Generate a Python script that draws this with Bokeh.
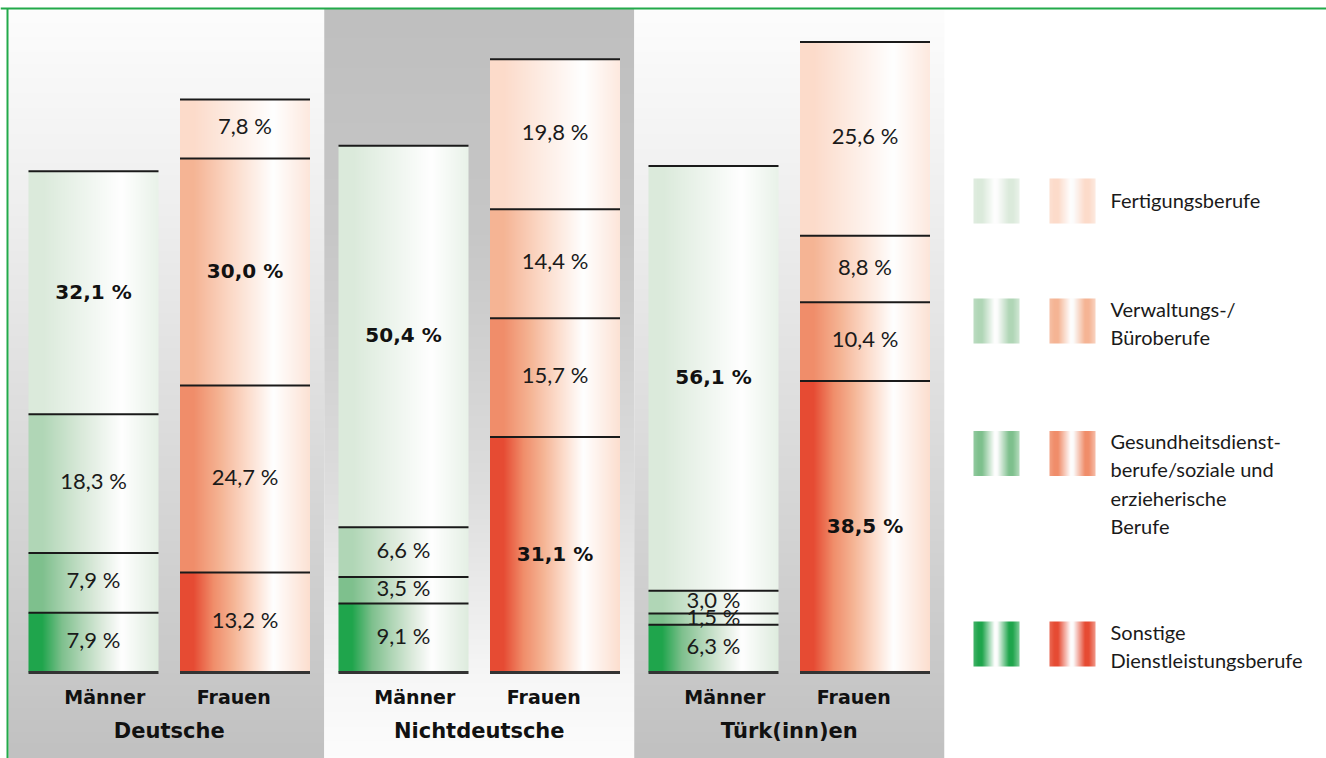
import numpy as np
from bokeh.plotting import figure
from bokeh.models import Range1d, Span, ColumnDataSource
from bokeh.core.properties import value
from bokeh.embed import file_html
from bokeh.resources import INLINE

# ---------------- data ----------------
groups = ["Deutsche", "Nichtdeutsche", "Türk(inn)en"]
sexes = ["Männer", "Frauen"]
# bar order: Deutsche M, Deutsche F, Nichtdeutsche M, Nichtdeutsche F, Türk M, Türk F
sonstige = [7.9, 13.2, 9.1, 31.1, 6.3, 38.5]
gesundheit = [7.9, 24.7, 3.5, 15.7, 1.5, 10.4]
verwaltung = [18.3, 30.0, 6.6, 14.4, 3.0, 8.8]
fertigung = [32.1, 7.8, 50.4, 19.8, 56.1, 25.6]
# stacking order bottom -> top
series = [sonstige, gesundheit, verwaltung, fertigung]
category_labels = [
    "Sonstige\nDienstleistungsberufe",
    "Gesundheitsdienst-\nberufe/soziale und\nerzieherische\nBerufe",
    "Verwaltungs-/\nBüroberufe",
    "Fertigungsberufe",
]
green_colors = ["#1fa54c", "#7ec08d", "#b0d6b6", "#dbeadb"]
red_colors = ["#e64b33", "#f08d6a", "#f5b494", "#fcdbca"]

# ---------------- layout ----------------
W, H = 1326, 758
PX = 7.57          # pixels per percent
BASE = 672         # baseline, px from top of canvas
FRAME_TOP, FRAME_LEFT = 8, 8
GROUP_W = 310
G0 = 168.75
BAR_OFF = 75.75
BAR_W = 130
LABEL_OFF = 64.5

def yd(px_from_top):
    return (BASE - px_from_top) / PX

p = figure(width=W, height=H, x_range=Range1d(0, W),
           y_range=Range1d(-(H - BASE) / PX, BASE / PX),
           output_backend="svg", toolbar_location=None,
           x_axis_location=None, y_axis_location=None, min_border=0,
           outline_line_color=None, background_fill_color="white",
           border_fill_color="white")
p.grid.visible = False

def hex2rgb(h):
    return [int(h[i:i + 2], 16) for i in (1, 3, 5)]

def mix(c, w):
    return [255 - (255 - v) * w for v in c]

WHITE = [255, 255, 255]

def make_img(stops, n, vertical=False):
    pos = [s[0] for s in stops]
    cols = np.array([s[1] for s in stops], dtype=float)
    t = np.linspace(0, 1, n)
    rgb = np.stack([np.interp(t, pos, cols[:, k]) for k in range(3)], axis=-1)
    rgba = np.concatenate([rgb, np.full((n, 1), 255.0)], axis=-1).astype(np.uint8)
    if vertical:
        arr = rgba[::-1][:, None, :]          # row 0 = bottom
        arr = np.repeat(arr, 2, axis=1)
    else:
        arr = rgba[None, :, :]
        arr = np.repeat(arr, 2, axis=0)
    arr = np.ascontiguousarray(arr)
    return arr.view(np.uint32).reshape(arr.shape[0], arr.shape[1])

def bar_stops(palette, k):
    chain = [hex2rgb(c) for c in palette[k:]] + [WHITE]
    start, end = 0.1, 0.72
    stops = [(0, hex2rgb(palette[k]))]
    for i, c in enumerate(chain):
        stops.append((start + (end - start) * i / (len(chain) - 1), c))
    stops.append((1.0, mix(hex2rgb(palette[-1]), 0.9 - 0.1 * k)))
    return stops

def legend_stops(palette, k):
    c = hex2rgb(palette[k])
    return [(0, mix(c, 0.85)), (0.1, c), (0.18, c), (0.46, WHITE),
            (0.52, [252, 252, 252]), (0.78, c), (0.86, c), (1.0, mix(c, 0.6))]

# ---------------- panel backgrounds ----------------
panel_stops_light = [(0, [253] * 3), (0.26, [239] * 3), (1.0, [193] * 3)]
panel_stops_dark = [(0, [191] * 3), (0.3, [199] * 3), (0.65, [222] * 3), (0.9, [247] * 3), (1.0, [252] * 3)]
bg = dict(image=[], x=[], y=[], dw=[], dh=[])
for gi in range(len(groups)):
    left = G0 + GROUP_W * gi - GROUP_W / 2
    right = left + GROUP_W
    if gi == 0:
        left = FRAME_LEFT
    stops = panel_stops_dark if gi == 1 else panel_stops_light
    bg["image"].append(make_img(stops, 256, vertical=True))
    bg["x"].append(left)
    bg["y"].append(yd(H))
    bg["dw"].append(right - left)
    bg["dh"].append(yd(FRAME_TOP) - yd(H))
p.image_rgba(image="image", x="x", y="y", dw="dw", dh="dh", source=ColumnDataSource(bg))

# ---------------- bars ----------------
bar_centers = []
label_centers = []
for gi in range(len(groups)):
    for si in range(len(sexes)):
        bar_centers.append(G0 + GROUP_W * gi + (2 * si - 1) * BAR_OFF)
        label_centers.append(G0 + GROUP_W * gi + (2 * si - 1) * LABEL_OFF)

seg = dict(image=[], x=[], y=[], dw=[], dh=[])
txt_reg = dict(x=[], y=[], t=[])
txt_bold = dict(x=[], y=[], t=[])
lines = dict(x0=[], x1=[], y=[])
for b, cx in enumerate(bar_centers):
    palette = green_colors if b % 2 == 0 else red_colors
    vals = [s[b] for s in series]
    vmax = max(vals)
    bottom = 0.0
    for k, v in enumerate(vals):
        seg["image"].append(make_img(bar_stops(palette, k), BAR_W))
        seg["x"].append(cx - BAR_W / 2)
        seg["y"].append(bottom)
        seg["dw"].append(BAR_W)
        seg["dh"].append(v)
        label = f"{v:.1f} %".replace(".", ",")
        d = txt_bold if v == vmax else txt_reg
        d["x"].append(cx)
        d["y"].append(bottom + v / 2)
        d["t"].append(label)
        bottom += v
        lines["x0"].append(cx - BAR_W / 2)
        lines["x1"].append(cx + BAR_W / 2)
        lines["y"].append(bottom)

p.image_rgba(image="image", x="x", y="y", dw="dw", dh="dh", source=ColumnDataSource(seg))
p.text(x="x", y="y", text="t", source=ColumnDataSource(txt_reg),
       text_font=value("Lato"), text_font_size="22px", text_color="#1a1a1a",
       text_align="center", text_baseline="middle", y_offset=-3)
p.text(x="x", y="y", text="t", source=ColumnDataSource(txt_bold),
       text_font=value("DejaVu Sans"), text_font_style="bold", text_font_size="20px",
       text_color="#111111", text_align="center", text_baseline="middle", y_offset=-1)
p.segment(x0="x0", y0="y", x1="x1", y1="y", source=ColumnDataSource(lines),
          line_color="#1a1a1a", line_width=2)
p.segment(x0=[c - BAR_W / 2 for c in bar_centers], y0=[0] * len(bar_centers),
          x1=[c + BAR_W / 2 for c in bar_centers], y1=[0] * len(bar_centers),
          line_color="#333333", line_width=3)

# ---------------- axis-like labels ----------------
p.text(x=label_centers, y=[-24 / PX] * len(label_centers),
       text=[sexes[i % 2] for i in range(len(label_centers))],
       text_font=value("DejaVu Sans"), text_font_style="bold", text_font_size="19px",
       text_color="#111111", text_align="center", text_baseline="middle")
p.text(x=[G0 + GROUP_W * gi for gi in range(len(groups))], y=[-58 / PX] * len(groups),
       text=groups, text_font=value("DejaVu Sans"), text_font_style="bold",
       text_font_size="21px", text_color="#111111", text_align="center",
       text_baseline="middle")

# ---------------- legend ----------------
SW_W, SW_H = 46, 45
green_left, red_left, text_left = 973, 1049, 1110
row_centers = [200.5, 320.5, 453, 643.5]    # px from top, legend rows top->bottom
leg = dict(image=[], x=[], y=[], dw=[], dh=[])
ltxt_single = dict(x=[], y=[], t=[])
ltxt_multi = dict(x=[], y=[], t=[])
for r, cy in enumerate(row_centers):
    k = len(series) - 1 - r
    for left, palette in ((green_left, green_colors), (red_left, red_colors)):
        leg["image"].append(make_img(legend_stops(palette, k), SW_W))
        leg["x"].append(left)
        leg["y"].append(yd(cy + SW_H / 2))
        leg["dw"].append(SW_W)
        leg["dh"].append(SW_H / PX)
    lab = category_labels[k]
    if "\n" in lab:
        ltxt_multi["x"].append(text_left)
        ltxt_multi["y"].append(yd(cy - SW_H / 2 - 2))
        ltxt_multi["t"].append(lab)
    else:
        ltxt_single["x"].append(text_left)
        ltxt_single["y"].append(yd(cy - 1))
        ltxt_single["t"].append(lab)

p.image_rgba(image="image", x="x", y="y", dw="dw", dh="dh", source=ColumnDataSource(leg))
p.text(x="x", y="y", text="t", source=ColumnDataSource(ltxt_single),
       text_font=value("Lato"), text_font_size="20px", text_color="#1a1a1a",
       text_align="left", text_baseline="middle")
p.text(x="x", y="y", text="t", source=ColumnDataSource(ltxt_multi),
       text_font=value("Lato"), text_font_size="20px", text_color="#1a1a1a",
       text_align="left", text_baseline="top", text_line_height=1.18)

# ---------------- green frame (top and left) ----------------
p.add_layout(Span(location=yd(FRAME_TOP), dimension="width", line_color="#22aa4a", line_width=2))
p.segment(x0=[FRAME_LEFT - 1], y0=[yd(FRAME_TOP)], x1=[FRAME_LEFT - 1], y1=[yd(H)],
          line_color="#22aa4a", line_width=2)

open("out.html", "w").write(file_html(p, INLINE))
